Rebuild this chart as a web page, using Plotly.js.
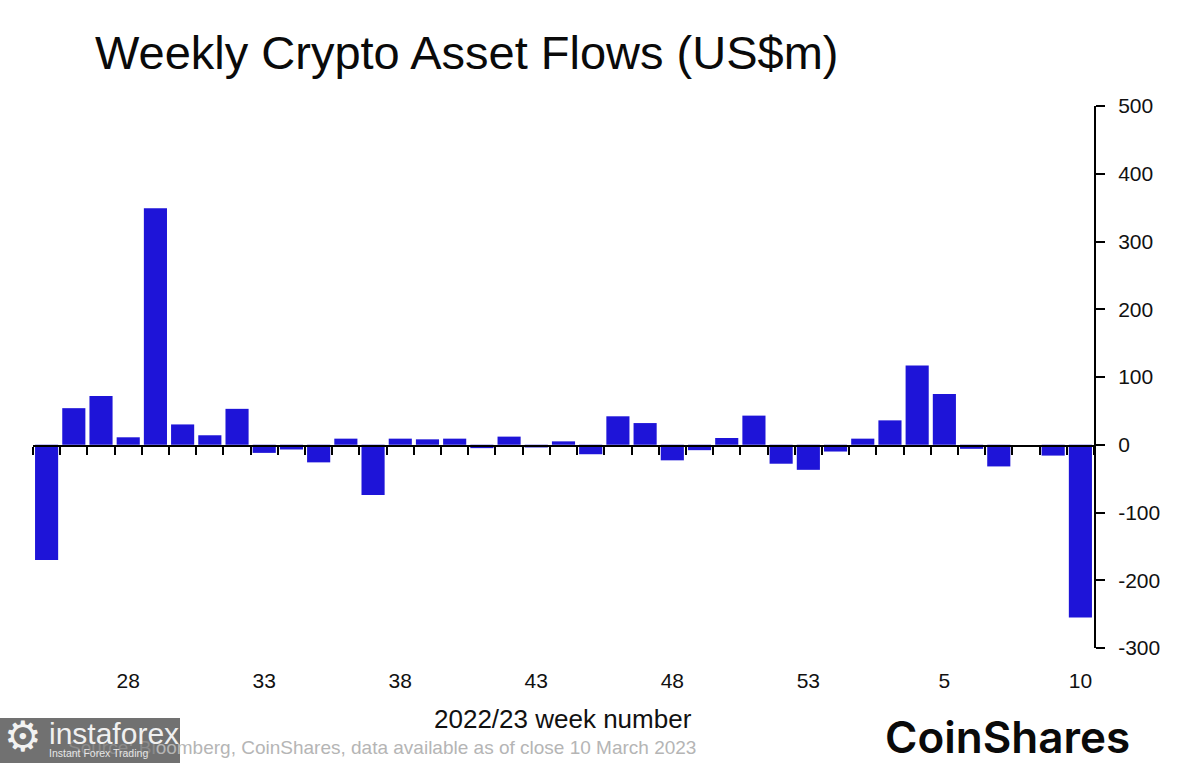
<!DOCTYPE html>
<html><head><meta charset="utf-8">
<script src="https://cdn.plot.ly/plotly-3.0.1.min.js"></script>
<style>html,body{margin:0;padding:0;background:#fff}#c{width:1200px;height:763px}</style>
</head><body><div id="c"></div>
<script>
const weeks = ['25','26','27','28','29','30','31','32','33','34','35','36','37','38','39','40','41','42','43','44','45','46','47','48','49','50','51','52','53','1','2','3','4','5','6','7','8','9','10'];
const flows = [-170,54,72,11,349,30,14,53,-12,-7,-26,9,-74,9,8,9,-5,12,-4,5,-14,42,32,-23,-8,10,43,-28,-37,-10,9,36,117,75,-6,-32,0,-16,-255];
const xTickLabels = ['28','33','38','43','48','53','5','10'];
const yTicks = [-300,-200,-100,0,100,200,300,400,500];
const yTickLabels = ['-300','-200','-100','0','100','200','300','400','500'];

const L=33,R=1094,T=106,B=648;
const px=x=>(x-L)/(R-L), py=y=>(B-y)/(B-T);
const sans='Inter, "Liberation Sans", Arial, sans-serif';
const helv='"Liberation Sans", Arial, sans-serif';
const idx=weeks.map((_,i)=>i);
const zeroFrac=(0-(-300))/(500-(-300));

function note(text,x,y,font,anchor){
  return {text:text,xref:'paper',yref:'paper',x:px(x),y:py(y),xanchor:anchor||'left',yanchor:'middle',
    showarrow:false,align:'left',borderpad:0,font:font};
}

const traces=[
 {type:'bar',x:idx,y:flows,marker:{color:'#1E14D8',line:{width:0}},hoverinfo:'x+y',showlegend:false},
 {type:'scatter',x:idx,y:idx.map(()=>0),xaxis:'x2',yaxis:'y2',mode:'none',hoverinfo:'skip',showlegend:false}
];
const layout={
 width:1200,height:763,paper_bgcolor:'rgba(255,255,255,1)',plot_bgcolor:'rgba(0,0,0,0)',showlegend:false,
 margin:{l:L,r:1200-R,t:T,b:763-B,pad:0},
 bargap:0.15,
 xaxis:{anchor:'y',range:[-0.5,38.5],tickmode:'array',
   tickvals:xTickLabels.map((_,i)=>3+5*i),ticktext:xTickLabels,
   ticks:'',ticklabelstandoff:18,
   showline:false,showgrid:false,zeroline:false,
   tickfont:{family:helv,size:21,color:'#111'},tickangle:0,fixedrange:true},
 yaxis:{anchor:'x',range:[-300,500],side:'right',tickmode:'array',tickvals:yTicks,ticktext:yTickLabels,
   ticks:'outside',ticklen:9,tickwidth:2,tickcolor:'#000',showline:true,linecolor:'#000',linewidth:2,
   ticklabelstandoff:9,
   showgrid:false,zeroline:false,tickfont:{family:helv,size:21,color:'#111'},fixedrange:true},
 xaxis2:{anchor:'y2',range:[-0.5,38.5],tickmode:'linear',tick0:-0.5,dtick:1,
   ticks:'outside',ticklen:8,tickwidth:2,tickcolor:'#000',showticklabels:false,
   showline:true,linecolor:'#000',linewidth:2,showgrid:false,zeroline:false,fixedrange:true},
 yaxis2:{anchor:'x2',domain:[zeroFrac,1],range:[0,1],visible:false,fixedrange:true},
 shapes:[{type:'rect',xref:'paper',yref:'paper',x0:px(0),x1:px(180),y0:py(718),y1:py(763),
   fillcolor:'#717171',line:{width:0},layer:'above'}],
 annotations:[
  note('Weekly Crypto Asset Flows (US$m)',94,52,{family:helv,size:47,color:'#0a0a0a'}),
  note('2022/23 week number',563,719,{family:helv,size:26,color:'#111'},'center'),
  note('<span style="color:#8a8a8a">Source: Bl</span>oomberg, CoinShares, data available as of close 10 March 2023',697,747,{family:helv,size:19,color:'#b5b5b5'},'right'),
  note('CoinShares',1007,736.5,{family:sans,size:44,color:'#0a0a0a',weight:600},'center'),
  note('⚙',23,737,{family:'"DejaVu Sans"',size:42,color:'#f2f2f2'},'center'),
  note('instaforex',48,733,{family:helv,size:30,color:'#f0f0f0'}),
  note('Instant Forex Trading',48,753,{family:helv,size:10.5,color:'#e6e6e6'})
 ]
};
Plotly.newPlot('c',traces,layout,{displayModeBar:false,staticPlot:true});
</script></body></html>
